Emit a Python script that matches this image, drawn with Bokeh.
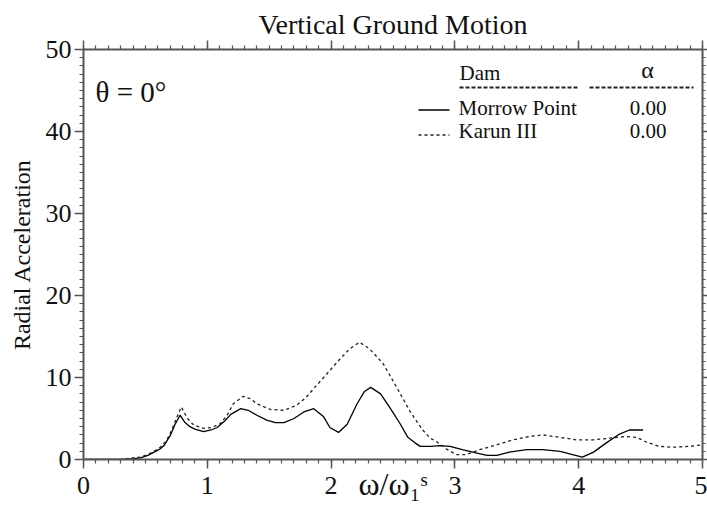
import numpy as np
from bokeh.plotting import figure
from bokeh.models import LinearAxis, FixedTicker, Range1d, Label, Arrow, CustomJSTickFormatter
from bokeh.embed import file_html
from bokeh.resources import INLINE

# ---- texts ----
title_text = "Vertical Ground Motion"
y_label = "Radial Acceleration"
x_label = "ω/ω₁ˢ"
angle_text = "θ = 0°"
header_dam = "Dam"
header_alpha = "α"
dams = ["Morrow Point", "Karun III"]
alphas = ["0.00", "0.00"]

# ---- ticks ----
x_ticks = [0, 1, 2, 3, 4, 5]
y_ticks = [0, 10, 20, 30, 40, 50]

# ---- data: Morrow Point (solid) ----
freq_morrow = [0.00, 0.30, 0.40, 0.46, 0.52, 0.57, 0.62, 0.65, 0.70, 0.74, 0.78,
               0.82, 0.86, 0.90, 0.97, 1.03, 1.08, 1.14, 1.19, 1.27, 1.33, 1.40,
               1.48, 1.55, 1.62, 1.70, 1.78, 1.86, 1.94, 1.99, 2.06, 2.13, 2.21,
               2.27, 2.32, 2.40, 2.48, 2.56, 2.62, 2.68, 2.72, 2.80, 2.88, 2.96,
               3.06, 3.17, 3.26, 3.34, 3.44, 3.58, 3.71, 3.85, 3.95, 4.03, 4.12,
               4.22, 4.33, 4.41, 4.52]
acc_morrow = [0.0, 0.0, 0.1, 0.2, 0.5, 0.9, 1.3, 1.7, 2.9, 4.3, 5.4,
              4.5, 4.0, 3.7, 3.4, 3.6, 3.9, 4.7, 5.5, 6.2, 6.0, 5.4,
              4.8, 4.5, 4.5, 5.0, 5.8, 6.2, 5.2, 3.9, 3.3, 4.3, 6.8,
              8.3, 8.8, 8.0, 6.2, 4.3, 2.7, 2.0, 1.6, 1.6, 1.7, 1.6,
              1.2, 0.8, 0.5, 0.5, 0.9, 1.2, 1.2, 1.0, 0.6, 0.3, 0.9,
              2.0, 3.1, 3.6, 3.6]

# ---- data: Karun III (dashed) ----
freq_karun = [0.00, 0.30, 0.40, 0.46, 0.52, 0.57, 0.62, 0.67, 0.71, 0.75, 0.79,
              0.84, 0.89, 0.97, 1.03, 1.10, 1.16, 1.21, 1.29, 1.35, 1.40, 1.51,
              1.62, 1.67, 1.72, 1.80, 1.88, 1.94, 2.05, 2.15, 2.23, 2.31, 2.42,
              2.53, 2.64, 2.74, 2.80, 2.85, 2.93, 3.01, 3.09, 3.20, 3.34, 3.47,
              3.60, 3.71, 3.85, 3.98, 4.12, 4.25, 4.38, 4.47, 4.55, 4.65, 4.76,
              4.90, 5.00]
acc_karun = [0.0, 0.0, 0.2, 0.3, 0.6, 1.0, 1.5, 2.3, 3.5, 5.0, 6.4,
             5.0, 4.2, 3.8, 3.9, 4.3, 5.4, 6.8, 7.7, 7.4, 6.8, 6.1,
             6.0, 6.3, 6.6, 7.6, 9.0, 10.0, 11.9, 13.5, 14.3, 13.5, 11.7,
             8.8, 5.8, 3.6, 2.6, 2.2, 1.3, 0.6, 0.6, 1.2, 1.8, 2.4,
             2.8, 3.0, 2.7, 2.4, 2.4, 2.6, 2.8, 2.7, 2.1, 1.6, 1.5,
             1.6, 1.8]

FONT = "Liberation Serif"
AX = "#555555"
TXT = "#111111"

p = figure(width=707, height=513, x_range=Range1d(0, 5), y_range=Range1d(0, 50),
           x_axis_type=None, y_axis_type=None, output_backend="svg",
           toolbar_location=None, min_border_left=83, min_border_right=0,
           min_border_top=49, min_border_bottom=54,
           title=title_text)
p.outline_line_color = None
p.background_fill_color = "white"
p.border_fill_color = "white"
p.title.text_font = FONT
p.title.text_font_size = "28px"
p.title.text_font_style = "normal"
p.title.text_color = TXT
p.title.align = "center"
p.title.standoff = 2

xt = FixedTicker(ticks=x_ticks, minor_ticks=[round(v, 2) for v in np.arange(0, 5.001, 0.1)])
yt = FixedTicker(ticks=y_ticks, minor_ticks=list(range(0, 51)))


def style(ax, labels=True, major_out=9, minor_out=4, standoff=3):
    ax.axis_line_color = AX
    ax.axis_line_width = 2
    ax.major_tick_line_color = AX
    ax.major_tick_line_width = 1.5
    ax.minor_tick_line_color = AX
    ax.minor_tick_line_width = 1.2
    ax.major_tick_in = 0
    ax.major_tick_out = major_out
    ax.minor_tick_in = 0
    ax.minor_tick_out = minor_out
    if labels:
        ax.major_label_text_font = FONT
        ax.major_label_text_font_size = "26px"
        ax.major_label_text_color = TXT
        ax.major_label_standoff = standoff
    else:
        ax.formatter = CustomJSTickFormatter(code="return ''")
        ax.major_label_standoff = 0
        ax.major_label_text_font_size = "1px"


bottom = LinearAxis(ticker=xt, axis_label=x_label)
style(bottom, standoff=8)
bottom.axis_label_text_font = FONT
bottom.axis_label_text_font_size = "32px"
bottom.axis_label_text_font_style = "normal"
bottom.axis_label_text_color = TXT
bottom.axis_label_standoff = -31

top = LinearAxis(ticker=xt)
style(top, labels=False)

left = LinearAxis(ticker=yt, axis_label=y_label)
style(left)
left.axis_label_text_font = FONT
left.axis_label_text_font_size = "24px"
left.axis_label_text_font_style = "normal"
left.axis_label_text_color = TXT
left.axis_label_standoff = 8

right = LinearAxis(ticker=yt)
style(right, labels=False, major_out=5, minor_out=3)

p.add_layout(bottom, "below")
p.add_layout(left, "left")
p.add_layout(top, "above")
p.add_layout(right, "right")

p.line(freq_morrow, acc_morrow, line_color="black", line_width=1.3)
p.line(freq_karun, acc_karun, line_color="#222222", line_width=1.3, line_dash="3 3")


def lab(x, y, text, size, align="left"):
    p.add_layout(Label(x=x, y=y, x_units="screen", y_units="screen", text=text,
                       text_font=FONT, text_font_size=size, text_color=TXT,
                       text_align=align, text_baseline="alphabetic"))


lab(12, 368, angle_text, "29px")
lab(376, 387, header_dam, "21px")
lab(564, 390, header_alpha, "24px", "center")
row_y = [352, 329]
for i in range(2):
    lab(375, row_y[i], dams[i], "21px")
    lab(564.5, row_y[i], alphas[i], "21px", "center")

# header underlines
for xs, xe in [(376, 494), (506, 610)]:
    p.add_layout(Arrow(x_start=xs, y_start=372, x_end=xe, y_end=372,
                       start_units="screen", end_units="screen", end=None,
                       line_color="#222222", line_width=2, line_dash="4 2"))
# legend sample lines
p.add_layout(Arrow(x_start=335, y_start=349.5, x_end=366, y_end=349.5,
                   start_units="screen", end_units="screen", end=None,
                   line_color="black", line_width=1.3))
p.add_layout(Arrow(x_start=335, y_start=324.5, x_end=366, y_end=324.5,
                   start_units="screen", end_units="screen", end=None,
                   line_color="#222222", line_width=1.3, line_dash="3 3"))

open("out.html", "w").write(file_html(p, INLINE))
